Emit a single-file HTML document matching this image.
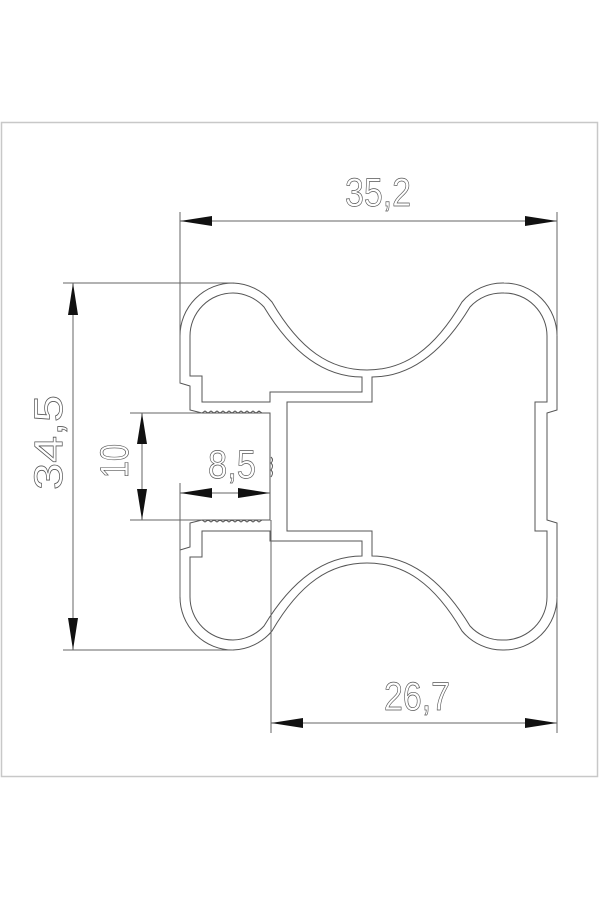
<!DOCTYPE html>
<html><head><meta charset="utf-8"><style>
html,body{margin:0;padding:0;background:#fff;}
svg{display:block;}
text{font-family:"Liberation Sans",sans-serif;}
</style></head><body>
<svg width="600" height="900" viewBox="0 0 600 900" xmlns="http://www.w3.org/2000/svg">
<rect x="1.5" y="122.5" width="596" height="654" fill="none" stroke="#c8c8c8" stroke-width="1.5"/>
<g fill="none" stroke="#555" stroke-width="1">
<path d="M180 383 L180 336 A53 53 0 0 1 233 283 A53 53 0 0 1 272 302 C300 350 330 370 367 370 C404 370 434 350 462 302 A53 53 0 0 1 504 283 A53 53 0 0 1 557 336 L557 410 L547 413 L547 520 L557 523 L557 597 A53 53 0 0 1 504 650 A53 53 0 0 1 462 631 C434 583 404 563 367 563 C330 563 300 583 272 631 A53 53 0 0 1 233 650 A53 53 0 0 1 180 597 L180 550 L190 547 L190 523 L202 520 L270 520 L270 413 L202 413 L190 410 L190 386 Z"/>
<path d="M190 376 L190 336 A43 43 0 0 1 233 293 A43 43 0 0 1 264 307 C290 350 322 377 362 377 L362 392 L270 392 L270 402 L202 402 L202 376 Z"/>
<path d="M190 557 L190 597 A43 43 0 0 0 233 640 A43 43 0 0 0 264 626 C290 583 322 556 362 556 L362 541 L270 541 L270 531 L202 531 L202 557 Z"/>
<path d="M287 402 L372 402 L372 377 C412 377 444 350 470 307 A43 43 0 0 1 504 293 A43 43 0 0 1 547 336 L547 402 L535 402 L535 531 L547 531 L547 597 A43 43 0 0 1 504 640 A43 43 0 0 1 470 626 C444 583 412 556 372 556 L372 531 L287 531 Z"/>
<polyline points="202,413 205,411 208,413 211,411 214,413 217,411 220,413 223,411 226,413 229,411 232,413 235,411 238,413 241,411 244,413 247,411 250,413 253,411 256,413 259,411 262,413"/>
<polyline points="202,520 205,522 208,520 211,522 214,520 217,522 220,520 223,522 226,520 229,522 232,520 235,522 238,520 241,522 244,520 247,522 250,520 253,522 256,520 259,522 262,520"/>
<path d="M271 457 q3 3 0 6 q3 3 0 7 q3 3 0 7"/>
</g>
<g stroke="#666" stroke-width="1" fill="none">
<line x1="180" y1="212" x2="180" y2="383"/>
<line x1="557" y1="212" x2="557" y2="336"/>
<line x1="63" y1="283" x2="233" y2="283"/>
<line x1="63" y1="650" x2="233" y2="650"/>
<line x1="130" y1="413" x2="202" y2="413"/>
<line x1="130" y1="520" x2="202" y2="520"/>
<line x1="180" y1="483" x2="180" y2="597"/>
<line x1="271" y1="520" x2="271" y2="733"/>
<line x1="557" y1="597" x2="557" y2="733"/>
<line x1="180" y1="221" x2="557" y2="221"/>
<line x1="73" y1="283" x2="73" y2="650"/>
<line x1="142" y1="413" x2="142" y2="520"/>
<line x1="180" y1="493" x2="270" y2="493"/>
<line x1="271" y1="723" x2="557" y2="723"/>
</g>
<g fill="#111">
<polygon points="180,221 212,216 212,226"/>
<polygon points="557,221 525,216 525,226"/>
<polygon points="73,283 68,315 78,315"/>
<polygon points="73,650 68,618 78,618"/>
<polygon points="142,413 137,444 147,444"/>
<polygon points="142,520 137,489 147,489"/>
<polygon points="180,493 212,488 212,498"/>
<polygon points="270,493 238,488 238,498"/>
<polygon points="271,723 303,718 303,728"/>
<polygon points="557,723 525,718 525,728"/>
</g>
<g fill="none" stroke="#555" stroke-width="0.7" font-size="40">
<text x="345" y="206" textLength="66" lengthAdjust="spacingAndGlyphs">35,2</text>
<text x="384" y="710" textLength="66" lengthAdjust="spacingAndGlyphs">26,7</text>
<text x="208" y="478" textLength="48" lengthAdjust="spacingAndGlyphs">8,5</text>
<text transform="translate(62,490) rotate(-90)" x="0" y="0" textLength="95" lengthAdjust="spacingAndGlyphs">34,5</text>
<text transform="translate(128,478) rotate(-90)" x="0" y="0" textLength="34" lengthAdjust="spacingAndGlyphs">10</text>
</g>
</svg>
</body></html>
